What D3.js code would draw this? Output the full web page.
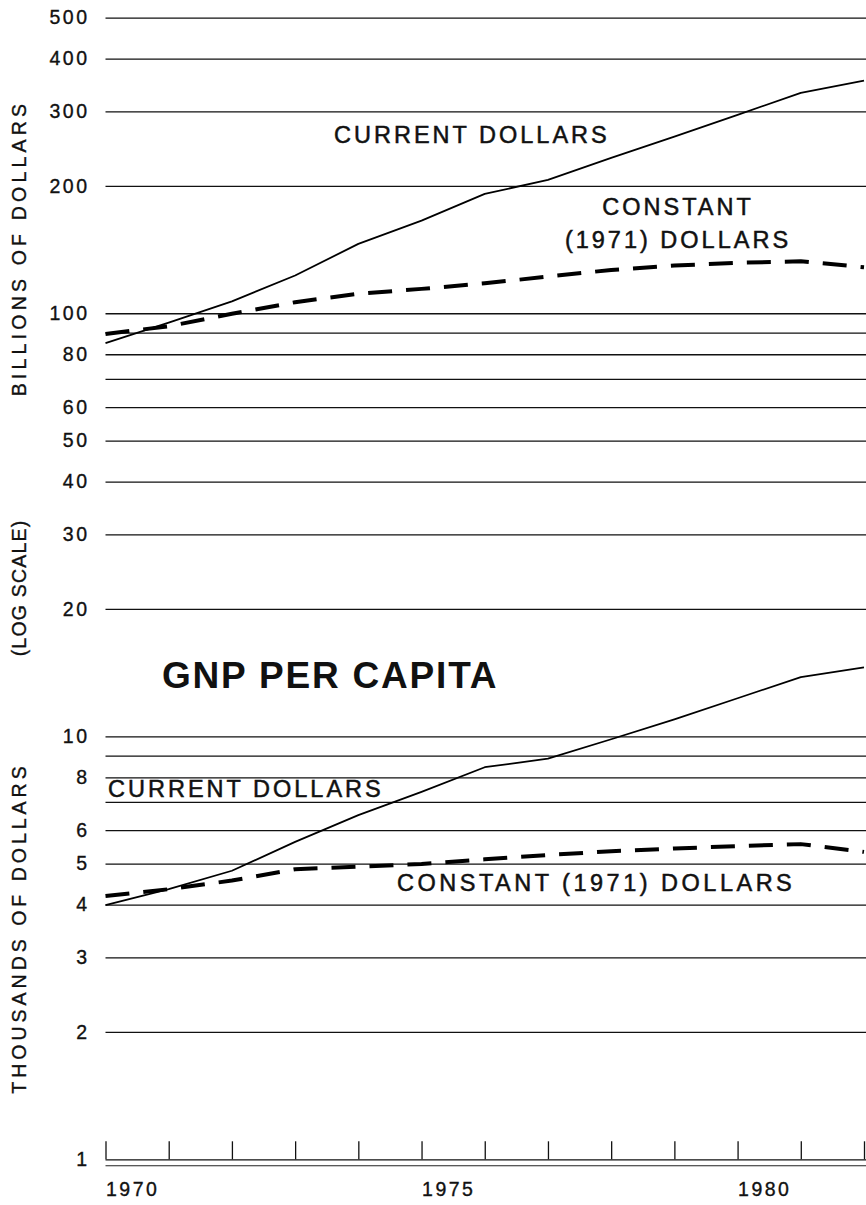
<!DOCTYPE html>
<html>
<head>
<meta charset="utf-8">
<script src="https://cdn.jsdelivr.net/npm/d3@7"></script>
<style>
  html, body { margin: 0; padding: 0; background: #fff; }
  svg { display: block; }
  text { font-family: "Liberation Sans", Arial, Helvetica, sans-serif; fill: #111; }
</style>
</head>
<body>
<svg id="chart" width="866" height="1205"></svg>
<script>
// ---------------- data ----------------
const years = [1970, 1971, 1972, 1973, 1974, 1975, 1976, 1977, 1978, 1979, 1980, 1981, 1982];

// GNP, billions of dollars
const gnpCurrent  = [85.0, 95.0, 106.7, 122.8, 145.9, 165.6, 191.5, 206.7, 233, 261.7, 294.5, 332, 355];
const gnpConstant = [89.3, 93.2, 99.7, 106.2, 111.2, 114.2, 117.7, 122.1, 126.6, 129.7, 131.6, 132.7, 128.5];

// GNP per capita, thousands of dollars
const pcCurrent  = [3.99, 4.35, 4.81, 5.63, 6.51, 7.39, 8.45, 8.85, 9.84, 10.97, 12.3, 13.8, 14.56];
const pcConstant = [4.19, 4.35, 4.56, 4.85, 4.92, 4.99, 5.12, 5.24, 5.35, 5.43, 5.50, 5.56, 5.33];

// tick values / labels
const topGrid    = [500, 400, 300, 200, 100, 90, 80, 70, 60, 50, 40, 30, 20];
const topLabels  = [500, 400, 300, 200, 100, 80, 60, 50, 40, 30, 20];
const botGrid    = [10, 9, 8, 7, 6, 5, 4, 3, 2, 1];
const botLabels  = [10, 8, 6, 5, 4, 3, 2, 1];
const yearLabels = [1970, 1975, 1980];

// ---------------- layout ----------------
const svg = d3.select("#chart");
const left = 105.5, right = 866;

const x = d3.scaleLinear().domain([1970, 1982]).range([left, 864]);
// one continuous log scale: both panels share the same geometry
const y = d3.scaleLog().domain([1, 500]).range([1159.3, 17.6]);

const smallFamily = '"DejaVu Sans", "Liberation Sans", Arial, sans-serif';
const tickFont = 19.5, tickSpacing = 2.5;

function styleSmall(sel) {
  sel.attr("font-size", tickFont)
    .attr("letter-spacing", tickSpacing)
    .attr("fill", "#111")
    .attr("stroke", "#111")
    .attr("stroke-width", 0.35)
    .attr("font-family", smallFamily);
}

function gridAxis(gridVals, labelVals) {
  const axis = d3.axisLeft(y)
    .tickValues(gridVals)
    .tickSize(-(right - left))
    .tickPadding(16)
    .tickFormat(d => labelVals.includes(d) ? String(d) : "");
  const g = svg.append("g").attr("transform", `translate(${left},0)`).call(axis);
  g.select(".domain").remove();
  g.selectAll(".tick line").attr("stroke", "#111").attr("stroke-width", 1.3);
  styleSmall(g.selectAll(".tick text"));
  return g;
}
gridAxis(topGrid, topLabels);
gridAxis(botGrid, botLabels);

// bottom x axis: ticks pointing up from the "1" line
const xAxis = d3.axisBottom(x)
  .tickValues(years)
  .tickSize(-18)
  .tickPadding(23)
  .tickFormat(d => yearLabels.includes(d) ? String(d) : "");
const gx = svg.append("g").attr("transform", `translate(0,${y(1)})`).call(xAxis);
gx.select(".domain").remove();
gx.selectAll(".tick line").attr("stroke", "#111").attr("stroke-width", 1.3);
const yearText = gx.selectAll(".tick text").attr("text-anchor", "start").attr("x", 0);
styleSmall(yearText);

// second, lower base line
svg.append("line")
  .attr("x1", left).attr("x2", right)
  .attr("y1", y(1) + 6.4).attr("y2", y(1) + 6.4)
  .attr("stroke", "#222").attr("stroke-width", 1.1);

// ---------------- lines ----------------
const line = d3.line().x((d, i) => x(years[i])).y(d => y(d));

function drawSeries(values, dashed) {
  svg.append("path")
    .datum(values)
    .attr("fill", "none")
    .attr("stroke", "#000")
    .attr("stroke-width", dashed ? 4 : 1.8)
    .attr("stroke-dasharray", dashed ? "24,14" : null)
    .attr("stroke-linejoin", "round")
    .attr("d", line);
}
drawSeries(gnpCurrent, false);
drawSeries(gnpConstant, true);
drawSeries(pcCurrent, false);
drawSeries(pcConstant, true);

// ---------------- text ----------------
function label(txt, xx, yy, anchor, spacing) {
  svg.append("text")
    .attr("x", xx).attr("y", yy)
    .attr("text-anchor", anchor || "start")
    .attr("font-size", 23.5)
    .attr("letter-spacing", spacing || 3)
    .attr("stroke", "#111")
    .attr("stroke-width", 0.5)
    .text(txt);
}
label("CURRENT DOLLARS", 334, 143);
label("CONSTANT", 678, 215, "middle");
label("(1971) DOLLARS", 678, 248, "middle");
label("CURRENT DOLLARS", 108, 797);
label("CONSTANT (1971) DOLLARS", 397, 891, "start", 3.5);

svg.append("text")
  .attr("x", 162).attr("y", 688)
  .attr("font-size", 37)
  .attr("font-weight", "bold")
  .attr("letter-spacing", 1.8)
  .text("GNP PER CAPITA");

function vLabel(txt, cy, spacing) {
  svg.append("text")
    .attr("transform", `translate(25.5,${cy}) rotate(-90)`)
    .attr("text-anchor", "middle")
    .attr("font-size", 19.5)
    .attr("letter-spacing", spacing)
    .attr("stroke", "#111")
    .attr("stroke-width", 0.35)
    .attr("font-family", smallFamily)
    .text(txt);
}
vLabel("BILLIONS OF DOLLARS", 248, 4.2);
vLabel("(LOG SCALE)", 588, 1.2);
vLabel("THOUSANDS OF DOLLARS", 928, 4.0);
</script>
</body>
</html>
